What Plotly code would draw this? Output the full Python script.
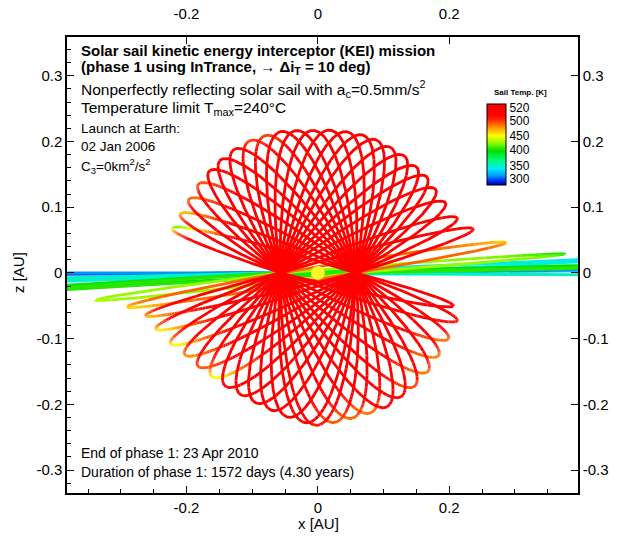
import numpy as np
import plotly.graph_objects as go
from plotly.colors import sample_colorscale

# ---------------- data ----------------
x_tick_vals = [-0.2, 0.0, 0.2]
x_tick_text = ["-0.2", "0", "0.2"]
y_tick_vals = [-0.3, -0.2, -0.1, 0.0, 0.1, 0.2, 0.3]
y_tick_text = ["-0.3", "-0.2", "-0.1", "0", "0.1", "0.2", "0.3"]

# colour legend: temperature labels and where they sit along the bar (0=bottom, 1=top)
cbar_temps = [300, 350, 400, 450, 500, 520]
cbar_label_pos = [0.075, 0.242, 0.429, 0.608, 0.79, 0.95]

# projected node distance of the orbits [AU]
node_x = 0.057

# inclination-cranking revolutions: tip of upper half / lower half (angle deg, distance AU, temp K)
loop_upper_angle = [162.0, 155.6, 148.8, 141.7, 135.0, 129.0, 122.6, 116.0, 110.0, 104.0, 98.4, 92.0, 85.5,
                    79.0, 73.0, 67.6, 61.5, 55.4, 49.0, 43.3, 37.2, 30.4, 22.7, 16.6, 9.5, 4.5]
loop_upper_radius = [0.226, 0.222, 0.221, 0.222, 0.223, 0.224, 0.225, 0.225, 0.223, 0.222, 0.219, 0.217, 0.218,
                     0.219, 0.220, 0.220, 0.219, 0.219, 0.217, 0.217, 0.215, 0.216, 0.222, 0.240, 0.285, 0.372]
loop_upper_temp = [420, 470, 488, 495, 510, 512, 508, 500, 500, 510, 515, 515, 515,
                   515, 515, 515, 515, 515, 515, 515, 515, 515, 512, 508, 465, 400]
loop_lower_angle = [345.3, 339.9, 331.7, 323.8, 316.3, 308.7, 302.3, 295.8, 289.3, 282.4, 275.8, 269.5, 265.7,
                    259.0, 252.5, 245.9, 239.3, 232.6, 226.0, 219.6, 213.0, 206.8, 199.9, 194.5, 190.5, 187.2]
loop_lower_radius = [0.205, 0.218, 0.217, 0.218, 0.221, 0.224, 0.225, 0.228, 0.227, 0.227, 0.229, 0.232, 0.229,
                     0.224, 0.220, 0.218, 0.2175, 0.220, 0.222, 0.227, 0.233, 0.244, 0.256, 0.265, 0.290, 0.336]
loop_lower_temp = [512, 505, 485, 482, 485, 495, 508, 508, 485, 488, 492, 505, 508,
                   512, 512, 512, 512, 508, 450, 492, 478, 450, 455, 470, 460, 430]
loop_base_temp = [516] * 24 + [490, 425]

# near-ecliptic spiral revolutions (extend beyond the frame)
flat_upper_angle = [0.9, 0.5, -0.4, 2.6, 1.5, 1.0]
flat_lower_angle = [180.3, 180.0, 181.2, 181.7, 183.0, 183.5]
flat_radius = [0.9, 0.85, 0.75, 0.7, 0.6, 0.55]
flat_temp = [300, 312, 350, 340, 395, 405]

# ---------------- styling ----------------
FONT = "Liberation Sans"
W, H = 622, 537
PL, PR, PT, PB = 67, 578, 37, 493
X_RANGE = [-0.382, 0.396]
Y_RANGE = [-0.335, 0.359]

colorscale = [
    [0.0, "rgb(0,0,140)"],
    [0.04, "rgb(0,30,255)"],
    [0.12, "rgb(0,160,255)"],
    [0.2, "rgb(0,235,245)"],
    [0.3, "rgb(0,250,130)"],
    [0.42, "rgb(0,225,0)"],
    [0.52, "rgb(150,250,0)"],
    [0.61, "rgb(255,255,0)"],
    [0.7, "rgb(255,160,0)"],
    [0.8, "rgb(255,45,0)"],
    [0.86, "rgb(255,0,0)"],
    [1.0, "rgb(255,0,0)"],
]


def temp_to_pos(t):
    return np.interp(t, cbar_temps, cbar_label_pos)


u = np.linspace(0, 2 * np.pi, 901)
s = np.abs(np.sin(u))
upper = u <= np.pi

NB = 120
bins_x = [[] for _ in range(NB)]
bins_y = [[] for _ in range(NB)]


def add_loop(au, ru, al, rl, tu, tl, tb):
    X = np.where(upper, ru * np.cos(np.radians(au)), rl * np.cos(np.radians(al)))
    Z = np.where(upper, ru * np.sin(np.radians(au)), rl * np.sin(np.radians(al)))
    x = node_x * np.cos(u) + X * s
    z = Z * s
    tip = np.where(upper, tu, tl)
    t = tb + (tip - tb) * s ** 9
    b = np.clip((temp_to_pos(t) * NB).astype(int), 0, NB - 1)
    start = 0
    n = len(x)
    for k in range(1, n):
        if b[k] != b[start] or k == n - 1:
            bins_x[b[start]].extend(list(x[start:k + 1]) + [None])
            bins_y[b[start]].extend(list(z[start:k + 1]) + [None])
            start = k


for i in range(len(flat_temp)):
    add_loop(flat_upper_angle[i], flat_radius[i], flat_lower_angle[i], flat_radius[i],
             flat_temp[i], flat_temp[i], flat_temp[i])
for i in range(len(loop_upper_angle)):
    add_loop(loop_upper_angle[i], loop_upper_radius[i], loop_lower_angle[i], loop_lower_radius[i],
             loop_upper_temp[i], loop_lower_temp[i], loop_base_temp[i])

fig = go.Figure()
for b in range(NB):
    if not bins_x[b]:
        continue
    col = sample_colorscale(colorscale, [(b + 0.5) / NB])[0]
    fig.add_trace(go.Scatter(x=bins_x[b], y=bins_y[b], mode="lines",
                             line=dict(color=col, width=2.8), hoverinfo="skip", showlegend=False))

# Sun
fig.add_trace(go.Scatter(x=[0], y=[0], mode="markers",
                         marker=dict(size=14, color="rgb(250,245,45)", line=dict(width=0)),
                         hoverinfo="skip", showlegend=False))

# colour bar holder
fig.add_trace(go.Scatter(
    x=[0], y=[0], mode="markers", hoverinfo="skip", showlegend=False,
    marker=dict(size=1, opacity=0, color=[0.5], cmin=0, cmax=1, colorscale=colorscale, showscale=True,
                colorbar=dict(
                    x=(487 - PL) / (PR - PL), xanchor="left", xpad=0,
                    y=(PB - 104) / (PB - PT), yanchor="top", ypad=0,
                    len=81, lenmode="pixels", thickness=19, thicknessmode="pixels",
                    outlinewidth=1, outlinecolor="black",
                    tickmode="array", tickvals=cbar_label_pos, ticktext=[str(t) for t in cbar_temps],
                    ticks="",
                    tickfont=dict(family=FONT, size=12, color="black")))))

# invisible trace for mirrored axes with labels
fig.add_trace(go.Scatter(x=[0], y=[0], xaxis="x2", yaxis="y2", mode="markers",
                         marker=dict(opacity=0, size=1), hoverinfo="skip", showlegend=False))

axis_common = dict(showgrid=False, zeroline=False, showline=True, linecolor="black", linewidth=1.5,
                   ticks="inside", ticklen=7, tickwidth=1, tickcolor="black", automargin=False,
                   tickfont=dict(family=FONT, size=15, color="black"), tickmode="array")

fig.update_layout(
    width=W, height=H,
    margin=dict(l=PL, r=W - PR, t=PT, b=H - PB, pad=0, autoexpand=False),
    paper_bgcolor="white", plot_bgcolor="white",
    xaxis=dict(range=X_RANGE, tickvals=x_tick_vals, ticktext=x_tick_text, mirror=True,
               minor=dict(tickmode="linear", tick0=0, dtick=0.05, ticklen=4, ticks="inside", tickcolor="black"),
               **axis_common),
    yaxis=dict(range=Y_RANGE, tickvals=y_tick_vals, ticktext=y_tick_text, mirror=True,
               minor=dict(tickmode="linear", tick0=0, dtick=0.02, ticklen=4, ticks="inside", tickcolor="black"),
               **axis_common),
    xaxis2=dict(range=X_RANGE, tickvals=x_tick_vals, ticktext=x_tick_text, overlaying="x", side="top",
                anchor="y2", ticklabelstandoff=10, **axis_common),
    yaxis2=dict(range=Y_RANGE, tickvals=y_tick_vals, ticktext=y_tick_text, overlaying="y", side="right",
                anchor="x2", **axis_common),
)


def px_x(p):
    return (p - PL) / (PR - PL)


def px_y(p):
    return (PB - p) / (PB - PT)


texts = [
    ("<b>Solar sail kinetic energy interceptor (KEI) mission</b>", 79, 50, 15),
    ("<b>(phase 1 using InTrance, \u2192 \u0394i<sub>T</sub> = 10 deg)</b>", 79, 67, 15),
    ("Nonperfectly reflecting solar sail with a<sub>c</sub>=0.5mm/s<sup>2</sup>", 79, 89, 15.5),
    ("Temperature limit T<sub>max</sub>=240\u00b0C", 79, 108, 15.5),
    ("Launch at Earth:", 79, 128, 13.5),
    ("02 Jan 2006", 79, 146, 13.5),
    ("C<sub>3</sub>=0km<sup>2</sup>/s<sup>2</sup>", 79, 166, 13.5),
    ("End of phase 1: 23 Apr 2010", 79, 453, 14),
    ("Duration of phase 1: 1572 days (4.30 years)", 79, 472, 14),
]
for txt, x, y, sz in texts:
    fig.add_annotation(text=txt, x=px_x(x), y=px_y(y), xref="paper", yref="paper",
                       xanchor="left", yanchor="middle", showarrow=False,
                       font=dict(family=FONT, size=sz, color="black"))

fig.add_annotation(text="<b>Sail Temp. [K]</b>", x=px_x(520), y=px_y(92), xref="paper", yref="paper",
                   xanchor="center", yanchor="middle", showarrow=False,
                   font=dict(family=FONT, size=8, color="black"))
fig.add_annotation(text="x [AU]", x=px_x(318), y=px_y(523), xref="paper", yref="paper",
                   xanchor="center", yanchor="middle", showarrow=False,
                   font=dict(family=FONT, size=15, color="black"))
fig.add_annotation(text="z [AU]", x=px_x(18), y=px_y(273), xref="paper", yref="paper",
                   xanchor="center", yanchor="middle", showarrow=False, textangle=-90,
                   font=dict(family=FONT, size=15, color="black"))

fig.write_html("out.html")
